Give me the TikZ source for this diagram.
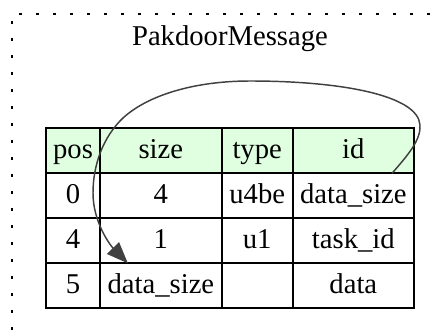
\documentclass[tikz,border=0pt]{standalone}
\usepackage{fontspec}
\setmainfont{Liberation Serif}
\usepackage{tikz}
\usetikzlibrary{positioning,arrows.meta}
\definecolor{headGreen}{HTML}{E0FFE0}
\definecolor{edgeGray}{HTML}{404040}

\begin{document}
\begin{tikzpicture}[x=0.75pt,y=-0.75pt,>={Triangle[length=16pt,width=12.5pt]},font=\fontsize{21.5}{26}\selectfont]

\tikzstyle{cluster} = [draw, line width=1.6pt, dash pattern=on 2.4pt off 10.35pt, rectangle, minimum width=327pt, minimum height=246pt, inner sep=0pt];
\tikzstyle{cell} = [draw, line width=1.5pt, rectangle, minimum height=33.75pt, inner sep=0pt, outer sep=0pt, text height=16pt, text depth=4.3pt];
\tikzstyle{headCell} = [cell, fill=headGreen];
\tikzstyle{colPos} = [minimum width=40.5pt];
\tikzstyle{colSize} = [minimum width=91.3pt];
\tikzstyle{colType} = [minimum width=53.2pt];
\tikzstyle{colId} = [minimum width=91pt];
\tikzstyle{fieldEdge} = [edgeGray, line width=1.1pt, ->];

\useasboundingbox (0,0) rectangle (438,331);
\clip (0,0) rectangle (438,331);

\node[cluster, name=msg] at (230,178) {};
\node[anchor=base, name=title] at ([yshift=-24.75pt]msg.north) {PakdoorMessage};

% header
\node[headCell, colPos, anchor=north west, name=hpos] at (46,128.3) {pos};
\node[headCell, colSize, right=0pt of hpos, name=hsize] {size};
\node[headCell, colType, right=0pt of hsize, name=htype] {type};
\node[headCell, colId, right=0pt of htype, name=hid] {id};

% seq fields
\node[cell, colPos, below=0pt of hpos, name=p0] {0};
\node[cell, colSize, right=0pt of p0, name=s0] {4};
\node[cell, colType, right=0pt of s0, name=t0] {u4be};
\node[cell, colId, right=0pt of t0, name=i0] {data\_size};

\node[cell, colPos, below=0pt of p0, name=p1] {4};
\node[cell, colSize, right=0pt of p1, name=s1] {1};
\node[cell, colType, right=0pt of s1, name=t1] {u1};
\node[cell, colId, right=0pt of t1, name=i1] {task\_id};

\node[cell, colPos, below=0pt of p1, name=p2] {5};
\node[cell, colSize, right=0pt of p2, name=s2] {data\_size};
\node[cell, colType, right=0pt of s2, name=t2] {};
\node[cell, colId, right=0pt of t2, name=i2] {data};

% size reference
\draw[fieldEdge] ([xshift=-16.5pt]hid.south east) .. controls (408,155) and (421,140) .. (420,125)
  .. controls (418,95) and (340,81) .. (250,81)
  .. controls (195,81) and (148,95) .. (123,118)
  .. controls (103,137) and (93,165) .. (93,193)
  .. controls (93,222) and (110,245) .. ([xshift=-24.75pt]s2.north);
\end{tikzpicture}
\end{document}
